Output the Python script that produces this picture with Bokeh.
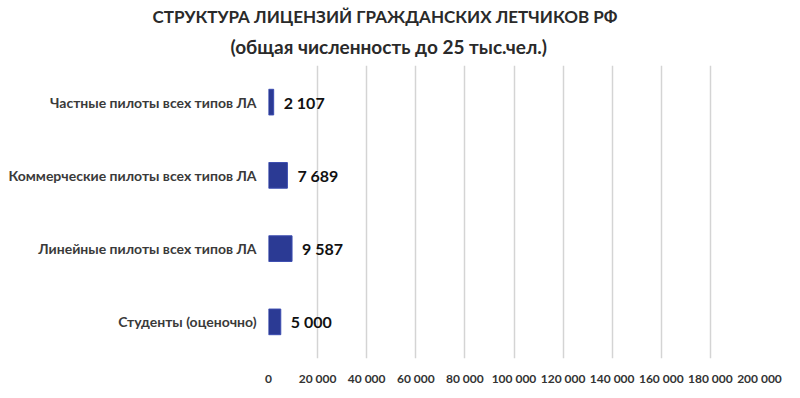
from bokeh.plotting import figure
from bokeh.models import Title, FixedTicker, ColumnDataSource
from bokeh.core.properties import value
from bokeh.embed import file_html
from bokeh.resources import INLINE

categories = ["Частные пилоты всех типов ЛА", "Коммерческие пилоты всех типов ЛА",
              "Линейные пилоты всех типов ЛА", "Студенты (оценочно)"]
values = [2107, 7689, 9587, 5000]
value_labels = ["2 107", "7 689", "9 587", "5 000"]
tick_values = [0, 20000, 40000, 60000, 80000, 100000, 120000, 140000, 160000, 180000, 200000]
tick_labels = ["0", "20 000", "40 000", "60 000", "80 000", "100 000", "120 000",
               "140 000", "160 000", "180 000", "200 000"]
title_main = "СТРУКТУРА ЛИЦЕНЗИЙ ГРАЖДАНСКИХ ЛЕТЧИКОВ РФ"
title_sub = "(общая численность до 25 тыс.чел.)"

FONT = "Lato"

p = figure(frame_width=491, frame_height=293, y_range=list(reversed(categories)),
           x_range=(0, 200000), output_backend="svg", toolbar_location=None,
           min_border_left=268, min_border_right=25, min_border_bottom=26,
           min_border_top=65)

src = ColumnDataSource(dict(cat=categories, val=values, lab=value_labels))
p.hbar(y="cat", right="val", left=0, height=0.35, source=src,
       fill_color="#2B3A94", line_color="#3B4CB0", line_width=1)
p.text(x="val", y="cat", text="lab", source=src, x_offset=10,
       text_font=value(FONT), text_font_size="16px", text_font_style="bold",
       text_color="#111111", text_baseline="middle", text_align="left")

p.add_layout(Title(text=title_sub, align="left", offset=-38, text_font=FONT,
                   text_font_size="19px", text_font_style="bold", text_color="#2a2a2a",
                   standoff=16), "above")
p.add_layout(Title(text=title_main, align="left", offset=-116, text_font=FONT,
                   text_font_size="17px", text_font_style="bold", text_color="#2a2a2a",
                   standoff=-5), "above")

p.outline_line_color = None
p.ygrid.grid_line_color = None
p.xgrid.grid_line_color = "#d4d4d4"
p.xgrid.grid_line_width = 1.5

for ax in (p.xaxis, p.yaxis):
    ax.axis_line_color = None
    ax.major_tick_line_color = None
    ax.minor_tick_line_color = None
    ax.major_tick_out = 0
    ax.major_tick_in = 0
    ax.minor_tick_out = 0
    ax.minor_tick_in = 0
    ax.major_label_text_font = FONT
    ax.major_label_text_font_style = "bold"

p.xaxis.ticker = FixedTicker(ticks=tick_values)
p.xaxis.major_label_overrides = {t: l for t, l in zip(tick_values, tick_labels)}
p.xaxis.major_label_text_font_size = "12px"
p.xaxis.major_label_text_color = "#333333"
p.xaxis.major_label_standoff = 12

p.yaxis.major_label_text_font_size = "14px"
p.yaxis.major_label_text_color = "#3a3a3a"
p.yaxis.major_label_standoff = 12

open("out.html", "w").write(file_html(p, INLINE))
